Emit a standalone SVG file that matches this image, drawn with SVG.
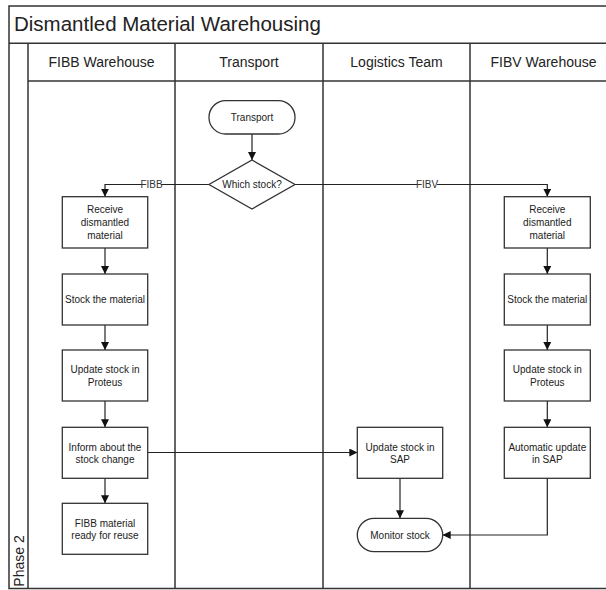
<svg xmlns="http://www.w3.org/2000/svg" width="606" height="590" viewBox="0 0 606 590">
<defs>
<marker id="ah" viewBox="0 0 10 10" refX="10" refY="5" markerWidth="8" markerHeight="8" markerUnits="userSpaceOnUse" orient="auto">
<path d="M0,0 L10,5 L0,10 z" fill="#111"/>
</marker>
<style>
.frame{fill:none;stroke:#333;stroke-width:1.5}
.node{fill:#fff;stroke:#333;stroke-width:1.3}
.t{font-family:"Liberation Sans",Arial,sans-serif;font-size:10px;fill:#222;text-anchor:middle}
.hd{font-family:"Liberation Sans",Arial,sans-serif;font-size:14px;fill:#222;text-anchor:middle}
.ttl{font-family:"Liberation Sans",Arial,sans-serif;font-size:20.5px;fill:#222}
.conn{fill:none;stroke:#222;stroke-width:1.2}
.lbl{font-family:"Liberation Sans",Arial,sans-serif;font-size:10px;fill:#333;text-anchor:middle}
</style>
</defs>
<rect width="606" height="590" fill="#fff"/>
<g id="pool">
<rect class="frame" x="9" y="6" width="608" height="582.5"/>
<line class="frame" x1="9" y1="43.3" x2="617" y2="43.3"/>
<line class="frame" x1="28" y1="43.3" x2="28" y2="588.5"/>
<line class="frame" x1="28" y1="81" x2="617" y2="81"/>
<line class="frame" x1="175" y1="43.3" x2="175" y2="588.5"/>
<line class="frame" x1="323" y1="43.3" x2="323" y2="588.5"/>
<line class="frame" x1="470" y1="43.3" x2="470" y2="588.5"/>
<text class="ttl" x="14" y="31">Dismantled Material Warehousing</text>
<text class="hd" x="101.5" y="67">FIBB Warehouse</text>
<text class="hd" x="249" y="67">Transport</text>
<text class="hd" x="396.5" y="67">Logistics Team</text>
<text class="hd" x="543.5" y="67">FIBV Warehouse</text>
<text class="hd" transform="translate(23.5,561) rotate(-90)">Phase 2</text>
</g>
<g id="connectors">
<line class="conn" x1="252" y1="134" x2="252" y2="160" marker-end="url(#ah)"/>
<polyline class="conn" points="209,184.5 105,184.5 105,196.7" marker-end="url(#ah)"/>
<polyline class="conn" points="295,184.5 547.3,184.5 547.3,196.7" marker-end="url(#ah)"/>
<line class="conn" x1="105" y1="248" x2="105" y2="274" marker-end="url(#ah)"/>
<line class="conn" x1="105" y1="325" x2="105" y2="350" marker-end="url(#ah)"/>
<line class="conn" x1="105" y1="401" x2="105" y2="427.3" marker-end="url(#ah)"/>
<line class="conn" x1="105" y1="478.3" x2="105" y2="503.3" marker-end="url(#ah)"/>
<line class="conn" x1="547.3" y1="248" x2="547.3" y2="274" marker-end="url(#ah)"/>
<line class="conn" x1="547.3" y1="325" x2="547.3" y2="350" marker-end="url(#ah)"/>
<line class="conn" x1="547.3" y1="401" x2="547.3" y2="427.3" marker-end="url(#ah)"/>
<line class="conn" x1="147.7" y1="452.5" x2="357.3" y2="452.5" marker-end="url(#ah)"/>
<line class="conn" x1="400" y1="478.3" x2="400" y2="518.3" marker-end="url(#ah)"/>
<polyline class="conn" points="547.3,478.3 547.3,535 442.7,535" marker-end="url(#ah)"/>
<rect x="142" y="178" width="19" height="12" fill="#fff"/>
<text class="lbl" x="151.5" y="188">FIBB</text>
<rect x="417" y="178" width="20" height="12" fill="#fff"/>
<text class="lbl" x="427" y="188">FIBV</text>
</g>
<g id="n-transport">
<rect class="node" x="209" y="100.7" width="86" height="33.3" rx="16.6"/>
<text class="t" x="252" y="121">Transport</text>
</g>
<g id="n-which">
<polygon class="node" points="252,160 295,184.5 252,209 209,184.5"/>
<text class="t" x="252" y="188">Which stock?</text>
</g>
<g id="n-fibb-receive">
<rect class="node" x="62.3" y="196.7" width="85.4" height="51.3"/>
<text class="t" x="105" y="213">Receive</text>
<text class="t" x="105" y="226">dismantled</text>
<text class="t" x="105" y="239">material</text>
</g>
<g id="n-fibb-stock">
<rect class="node" x="62.3" y="274" width="85.4" height="51"/>
<text class="t" x="105" y="303">Stock the material</text>
</g>
<g id="n-fibb-proteus">
<rect class="node" x="62.3" y="350" width="85.4" height="51"/>
<text class="t" x="105" y="373">Update stock in</text>
<text class="t" x="105" y="385.5">Proteus</text>
</g>
<g id="n-fibb-inform">
<rect class="node" x="62.3" y="427.3" width="85.4" height="51"/>
<text class="t" x="105" y="450.5">Inform about the</text>
<text class="t" x="105" y="463">stock change</text>
</g>
<g id="n-fibb-ready">
<rect class="node" x="62.3" y="503.3" width="85.4" height="51"/>
<text class="t" x="105" y="526.5">FIBB material</text>
<text class="t" x="105" y="539">ready for reuse</text>
</g>
<g id="n-sap">
<rect class="node" x="357.3" y="427.3" width="85.4" height="51"/>
<text class="t" x="400" y="450.5">Update stock in</text>
<text class="t" x="400" y="463">SAP</text>
</g>
<g id="n-monitor">
<rect class="node" x="357.3" y="518.3" width="85.4" height="33.4" rx="16.7"/>
<text class="t" x="400" y="538.5">Monitor stock</text>
</g>
<g id="n-fibv-receive">
<rect class="node" x="504.3" y="196.7" width="86" height="51.3"/>
<text class="t" x="547.3" y="213">Receive</text>
<text class="t" x="547.3" y="226">dismantled</text>
<text class="t" x="547.3" y="239">material</text>
</g>
<g id="n-fibv-stock">
<rect class="node" x="504.3" y="274" width="86" height="51"/>
<text class="t" x="547.3" y="303">Stock the material</text>
</g>
<g id="n-fibv-proteus">
<rect class="node" x="504.3" y="350" width="86" height="51"/>
<text class="t" x="547.3" y="373">Update stock in</text>
<text class="t" x="547.3" y="385.5">Proteus</text>
</g>
<g id="n-fibv-auto">
<rect class="node" x="504.3" y="427.3" width="86" height="51"/>
<text class="t" x="547.3" y="450.5">Automatic update</text>
<text class="t" x="547.3" y="463">in SAP</text>
</g>
</svg>
